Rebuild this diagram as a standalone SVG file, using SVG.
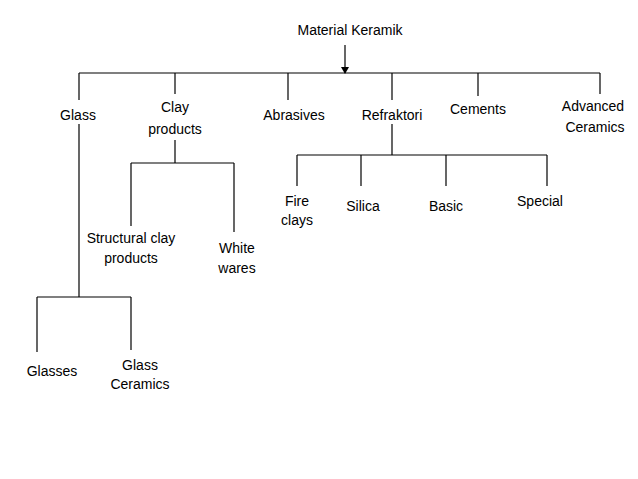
<svg xmlns="http://www.w3.org/2000/svg" width="638" height="479" viewBox="0 0 638 479">
<style>
text{font-family:"Liberation Sans",Arial,sans-serif;font-size:14px;fill:#000;text-anchor:middle}
.c line{stroke:#000;stroke-width:1.2}
</style>
<defs><marker id="a" markerWidth="8" markerHeight="8" refX="6" refY="4" orient="auto" markerUnits="userSpaceOnUse"><path d="M0,0 L7,4 L0,8Z" fill="#000"/></marker></defs>
<rect width="638" height="479" fill="#fff"/>
<g class="c" id="connectors">
<line x1="345" y1="45" x2="345" y2="73" marker-end="url(#a)"/>
<line x1="79" y1="73" x2="600" y2="73"/>
<line x1="79" y1="73" x2="79" y2="100"/>
<line x1="175" y1="73" x2="175" y2="94"/>
<line x1="288" y1="73" x2="288" y2="100"/>
<line x1="392" y1="73" x2="392" y2="100"/>
<line x1="478" y1="73" x2="478" y2="96"/>
<line x1="600" y1="73" x2="600" y2="94"/>
<line x1="79" y1="124" x2="79" y2="297"/>
<line x1="37" y1="297" x2="131" y2="297"/>
<line x1="37" y1="297" x2="37" y2="352"/>
<line x1="131" y1="297" x2="131" y2="350"/>
<line x1="175" y1="140" x2="175" y2="163"/>
<line x1="131" y1="163" x2="234" y2="163"/>
<line x1="131" y1="163" x2="131" y2="226"/>
<line x1="234" y1="163" x2="234" y2="232"/>
<line x1="392" y1="124" x2="392" y2="155"/>
<line x1="297" y1="155" x2="547" y2="155"/>
<line x1="297" y1="155" x2="297" y2="186"/>
<line x1="361" y1="155" x2="361" y2="186"/>
<line x1="446" y1="155" x2="446" y2="186"/>
<line x1="547" y1="155" x2="547" y2="186"/>
</g>
<g id="root"><text x="350" y="35">Material Keramik</text></g>
<g id="glass"><text x="78" y="120">Glass</text></g>
<g id="clay"><text x="175" y="112">Clay</text><text x="175" y="134">products</text></g>
<g id="abrasives"><text x="294" y="120">Abrasives</text></g>
<g id="refraktori"><text x="392" y="120">Refraktori</text></g>
<g id="cements"><text x="478" y="114">Cements</text></g>
<g id="advanced"><text x="593" y="111">Advanced</text><text x="595" y="132">Ceramics</text></g>
<g id="structural"><text x="131" y="243">Structural clay</text><text x="131" y="263">products</text></g>
<g id="white"><text x="237" y="253">White</text><text x="237" y="273">wares</text></g>
<g id="glasses"><text x="52" y="376">Glasses</text></g>
<g id="glassceramics"><text x="140" y="370">Glass</text><text x="140" y="389">Ceramics</text></g>
<g id="fire"><text x="297" y="206">Fire</text><text x="297" y="225">clays</text></g>
<g id="silica"><text x="363" y="211">Silica</text></g>
<g id="basic"><text x="446" y="211">Basic</text></g>
<g id="special"><text x="540" y="206">Special</text></g>
</svg>
